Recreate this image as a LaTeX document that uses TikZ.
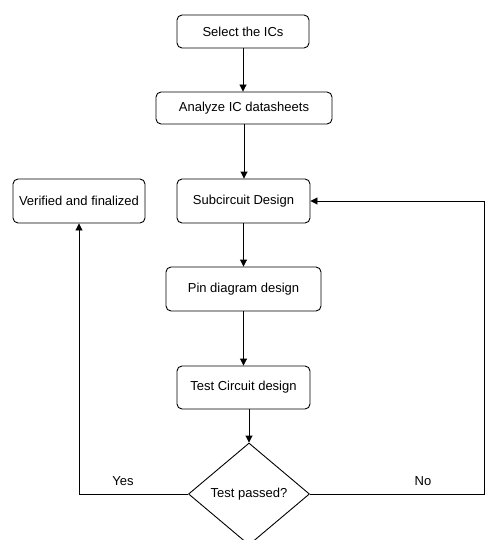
\documentclass[tikz,border=0pt]{standalone}
\usepackage{fontspec}
\setmainfont{Liberation Sans}
\usetikzlibrary{arrows.meta,shapes.geometric}

\begin{document}
\begin{tikzpicture}[
x=1pt, y=-1pt,
line width=0.9pt,
font=\fontsize{13}{15}\selectfont,
>={Triangle[length=7pt,width=7pt]},
pbox/.style={
    rectangle,
    draw,
    rounded corners=5pt,
    inner sep=0pt
    },
dnode/.style={
    diamond,
    draw,
    inner sep=0pt,
    minimum width=121pt,
    minimum height=102pt
    },
lbl/.style={
    inner sep=0pt
    },
]
\clip (0,0) rectangle (486,540);

\node[pbox, minimum width=132pt, minimum height=33pt] (sel) at (243,31.5) {Select the ICs};
\node[pbox, minimum width=176pt, minimum height=32pt] (ana) at (244,108) {Analyze IC datasheets};
\node[pbox, minimum width=132pt, minimum height=44pt] (ver) at (79,201) {Verified and finalized};
\node[pbox, minimum width=133pt, minimum height=44pt] (sub) at (243.5,201) {Subcircuit Design};
\node[pbox, minimum width=155pt, minimum height=44pt] (pin) at (243.5,289) {Pin diagram design};
\node[pbox, minimum width=133pt, minimum height=43pt] (tst) at (243.5,387.5) {Test Circuit design};
\node[dnode] (dec) at (249,494) {Test passed?};

\node[lbl] (yes) at (123,481) {Yes};
\node[lbl] (no) at (423,481) {No};
\coordinate (nocorner) at (484.5,494);

\draw[->] (sel.south) -- (sel.south |- ana.north);
\draw[->] (ana.south) -- (ana.south |- sub.north);
\draw[->] (sub) -- (pin);
\draw[->] (pin) -- (tst);
\draw[->] (dec.north |- tst.south) -- (dec.north);
\draw[->] (dec.west) -| (ver.south);
\draw[->] (dec.east) -- (nocorner) |- (sub.east);
\end{tikzpicture}
\end{document}
